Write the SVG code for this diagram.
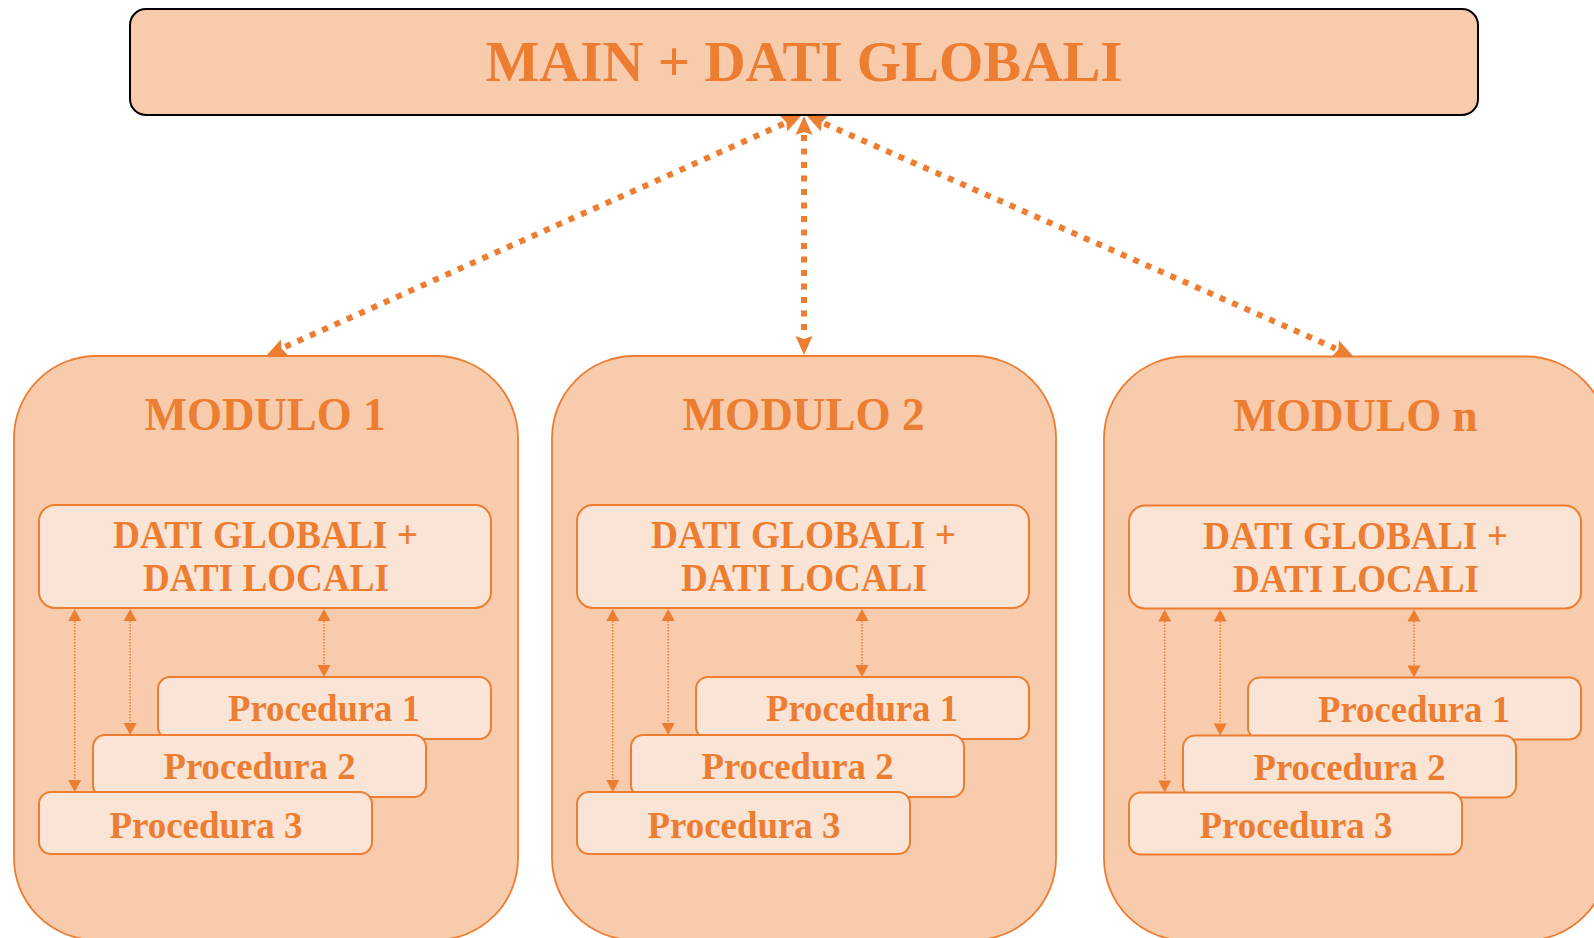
<svg xmlns="http://www.w3.org/2000/svg" width="1594" height="938" viewBox="0 0 1594 938">
  <style>
    .lbl { font-family: "Liberation Serif", "Times New Roman", serif; font-weight: bold; fill: #ED7D31; text-anchor: middle; }
    .main-box { fill: #F7CBAC; stroke: #000000; stroke-width: 2; }
    .module-box { fill: #F7CBAC; stroke: #ED7D31; stroke-width: 1.8; }
    .inner-box { fill: #FAE4D6; stroke: #ED7D31; stroke-width: 2; }
    .big-link { fill: none; stroke: #ED7D31; stroke-width: 6; stroke-dasharray: 6 7.5; }
    .small-link { fill: none; stroke: #ED7D31; stroke-width: 1.5; stroke-dasharray: 1.5 1.5; }
  </style>
  <defs>
    <marker id="bigHead" markerUnits="userSpaceOnUse" markerWidth="20" markerHeight="18" refX="0" refY="8.5" orient="auto-start-reverse" overflow="visible">
      <path d="M0,0 L19,8.5 L0,17 L3,8.5 z" fill="#ED7D31"/>
    </marker>
    <marker id="smallHead" markerUnits="userSpaceOnUse" markerWidth="13" markerHeight="13" refX="0" refY="6.5" orient="auto-start-reverse" overflow="visible">
      <path d="M0,0 L12,6.5 L0,13 z" fill="#ED7D31"/>
    </marker>
    <!-- one module: outer frame, title, shared data box and three stacked procedures -->
    <g id="moduleBody">
      <rect class="module-box" x="14" y="356" width="504" height="584" rx="82" ry="82"/>
      <rect class="inner-box" x="39" y="505" width="452" height="103" rx="16" ry="16"/>
      <text class="lbl" x="265.5" y="548" font-size="39" textLength="305" lengthAdjust="spacingAndGlyphs">DATI GLOBALI +</text>
      <text class="lbl" x="266" y="591" font-size="39" textLength="246" lengthAdjust="spacingAndGlyphs">DATI LOCALI</text>
      <rect class="inner-box" x="158" y="677" width="333" height="62" rx="12" ry="12"/>
      <text class="lbl" x="324" y="721" font-size="37" textLength="192" lengthAdjust="spacingAndGlyphs">Procedura 1</text>
      <rect class="inner-box" x="93" y="735" width="333" height="62" rx="12" ry="12"/>
      <text class="lbl" x="259.5" y="779" font-size="37" textLength="192" lengthAdjust="spacingAndGlyphs">Procedura 2</text>
      <rect class="inner-box" x="39" y="792" width="333" height="62" rx="12" ry="12"/>
      <text class="lbl" x="206" y="837.5" font-size="37" textLength="193" lengthAdjust="spacingAndGlyphs">Procedura 3</text>
    </g>
    <!-- links between the data box and each procedure inside a module -->
    <g id="moduleLinks">
      <line class="small-link" x1="74.7" y1="621" x2="74.7" y2="780" marker-start="url(#smallHead)" marker-end="url(#smallHead)"/>
      <line class="small-link" x1="130.2" y1="621" x2="130.2" y2="723" marker-start="url(#smallHead)" marker-end="url(#smallHead)"/>
      <line class="small-link" x1="324" y1="621" x2="324" y2="665" marker-start="url(#smallHead)" marker-end="url(#smallHead)"/>
    </g>
  </defs>

  <g id="main">
    <rect class="main-box" x="130" y="9" width="1348" height="106" rx="16" ry="16"/>
    <text class="lbl" x="804" y="81" font-size="56" textLength="637" lengthAdjust="spacingAndGlyphs">MAIN + DATI GLOBALI</text>
  </g>

  <g id="modulo-1">
    <use href="#moduleBody"/>
    <text class="lbl" x="265" y="430" font-size="46" textLength="241" lengthAdjust="spacingAndGlyphs">MODULO 1</text>
  </g>

  <g id="modulo-2" transform="translate(538,0)">
    <use href="#moduleBody"/>
    <text class="lbl" x="265.5" y="430" font-size="46" textLength="242" lengthAdjust="spacingAndGlyphs">MODULO 2</text>
  </g>

  <g id="modulo-n" transform="translate(1090,0.5)">
    <use href="#moduleBody"/>
    <text class="lbl" x="265.5" y="430" font-size="46" textLength="244" lengthAdjust="spacingAndGlyphs">MODULO n</text>
  </g>

  <g id="connectors">
    <line class="big-link" x1="783.7" y1="123.8" x2="284.3" y2="347.2" marker-start="url(#bigHead)" marker-end="url(#bigHead)"/>
    <line class="big-link" x1="804" y1="135" x2="804" y2="336" marker-start="url(#bigHead)" marker-end="url(#bigHead)"/>
    <line class="big-link" x1="824.4" y1="123.6" x2="1335.6" y2="348.4" marker-start="url(#bigHead)" marker-end="url(#bigHead)"/>
    <use href="#moduleLinks"/>
    <use href="#moduleLinks" transform="translate(538,0)"/>
    <use href="#moduleLinks" transform="translate(1090,0.5)"/>
  </g>
</svg>
